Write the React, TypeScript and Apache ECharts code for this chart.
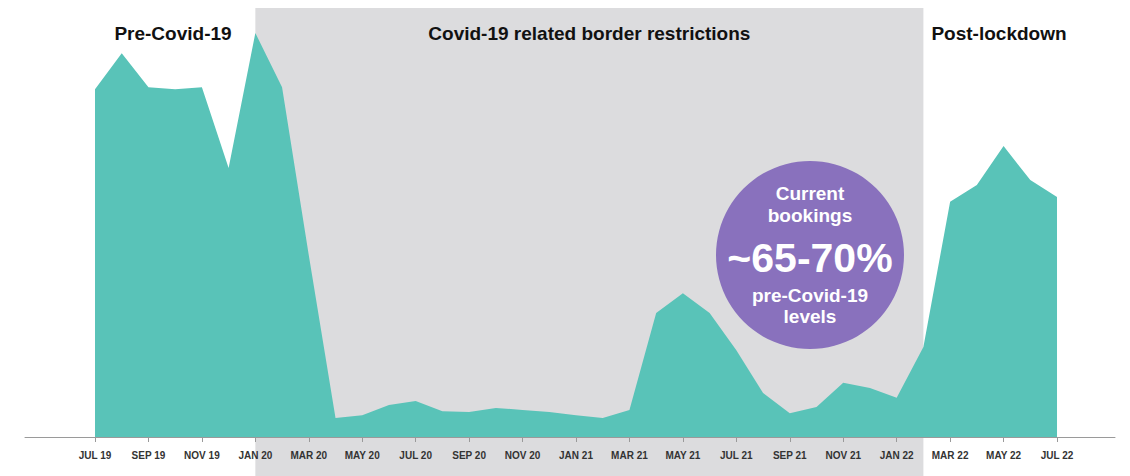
import React, { useEffect, useRef } from "react";
import * as echarts from "echarts";

// Monthly categories, JUL 19 .. JUL 22
const months = [
  "JUL 19", "AUG 19", "SEP 19", "OCT 19", "NOV 19", "DEC 19",
  "JAN 20", "FEB 20", "MAR 20", "APR 20", "MAY 20", "JUN 20",
  "JUL 20", "AUG 20", "SEP 20", "OCT 20", "NOV 20", "DEC 20",
  "JAN 21", "FEB 21", "MAR 21", "APR 21", "MAY 21", "JUN 21",
  "JUL 21", "AUG 21", "SEP 21", "OCT 21", "NOV 21", "DEC 21",
  "JAN 22", "FEB 22", "MAR 22", "APR 22", "MAY 22", "JUN 22",
  "JUL 22",
];

// Bookings index (JAN 20 = 100)
const bookings = [
  86.1, 95.0, 86.6, 86.1, 86.6, 66.6,
  100.0, 86.6, 45.0, 4.7, 5.4, 7.9,
  8.9, 6.4, 6.2, 7.2, 6.7, 6.2,
  5.4, 4.7, 6.7, 30.7, 35.6, 30.7,
  21.5, 10.9, 5.9, 7.4, 13.4, 12.1,
  9.7, 22.3, 58.2, 62.4, 72.0, 63.6,
  59.4,
];

// Labelled ticks: every second month
const tickIndexes = months.map((_, i) => i).filter((i) => i % 2 === 0);

// Period boundaries (month indexes)
const restrictionStart = 6; // JAN 20
const restrictionEnd = 31; // FEB 22

const periodTitles = ["Pre-Covid-19", "Covid-19 related border restrictions", "Post-lockdown"];
const bubbleLines = ["Current", "bookings", "~65-70%", "pre-Covid-19", "levels"];

const TEAL = "#59c3b8";
const GRAY = "#dcdcde";
const PURPLE = "#8971bd";
const FONT = "'Liberation Sans', Arial, Helvetica, sans-serif";

export default function App() {
  const ref = useRef<HTMLDivElement>(null);

  useEffect(() => {
    if (!ref.current) return;
    const chart = echarts.init(ref.current, undefined, { renderer: "svg" });
    chart.setOption({
      animation: false,
      backgroundColor: "#ffffff",
      grid: { left: 25, right: 15, top: 12.8, bottom: 39, containLabel: false },
      xAxis: {
        type: "value",
        min: -2.62,
        max: 38.17,
        z: 5,
        splitLine: { show: false },
        axisLine: { show: true, lineStyle: { color: "#9a9a9a", width: 1 } },
        axisTick: {
          show: true,
          customValues: tickIndexes,
          length: 5,
          lineStyle: { color: "#9a9a9a", width: 1 },
        },
        axisLabel: {
          customValues: tickIndexes,
          formatter: (v: number) => months[Math.round(v)] ?? "",
          color: "#333333",
          fontSize: 10,
          fontWeight: 600,
          fontFamily: FONT,
          margin: 13,
        },
      },
      yAxis: { type: "value", min: 0, max: 105, show: false },
      series: [
        {
          type: "line",
          data: bookings.map((v, i) => [i, v]),
          symbol: "none",
          lineStyle: { width: 0 },
          areaStyle: { color: TEAL, opacity: 1 },
          z: 2,
        },
      ],
    });

    const x1 = chart.convertToPixel({ xAxisIndex: 0 }, restrictionStart) as number;
    const x2 = chart.convertToPixel({ xAxisIndex: 0 }, restrictionEnd) as number;
    const titleStyle = {
      fill: "#111111",
      fontSize: 19,
      fontWeight: "bold",
      fontFamily: FONT,
      align: "center",
      verticalAlign: "middle",
    };
    const bubbleText = (text: string, y: number, size: number) => ({
      type: "text",
      z: 12,
      style: {
        text,
        x: 810,
        y,
        fill: "#ffffff",
        fontSize: size,
        fontWeight: "bold",
        fontFamily: FONT,
        align: "center",
        verticalAlign: "middle",
      },
    });

    chart.setOption({
      graphic: [
        {
          type: "rect",
          z: 0,
          shape: { x: x1, y: 8, width: x2 - x1, height: 476 - 8 },
          style: { fill: GRAY },
        },
        { type: "text", z: 10, style: { ...titleStyle, text: periodTitles[0], x: 173, y: 33 } },
        { type: "text", z: 10, style: { ...titleStyle, text: periodTitles[1], x: (x1 + x2) / 2, y: 33 } },
        { type: "text", z: 10, style: { ...titleStyle, text: periodTitles[2], x: 999, y: 33 } },
        {
          type: "circle",
          z: 11,
          shape: { cx: 810, cy: 255, r: 94 },
          style: { fill: PURPLE },
        },
        bubbleText(bubbleLines[0], 193, 19),
        bubbleText(bubbleLines[1], 215, 19),
        bubbleText(bubbleLines[2], 258, 41),
        bubbleText(bubbleLines[3], 295, 19),
        bubbleText(bubbleLines[4], 316, 19),
      ],
    });

    return () => chart.dispose();
  }, []);

  return (
    <div
      ref={ref}
      style={{ position: "fixed", left: 0, top: 0, width: 1130, height: 476 }}
    />
  );
}
